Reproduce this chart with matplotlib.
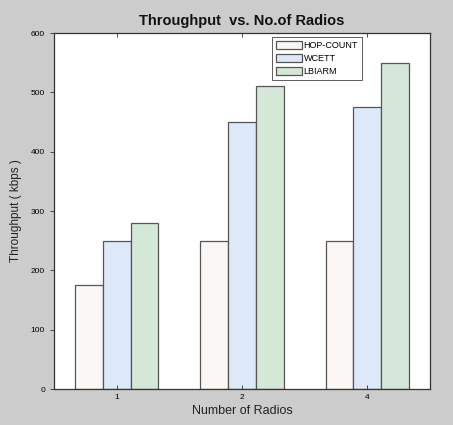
import matplotlib
matplotlib.use("Agg")
import matplotlib.pyplot as plt
import numpy as np

plt.rcParams['font.family'] = ['Liberation Sans', 'DejaVu Sans']

categories = ["1", "2", "4"]
series_names = ["HOP-COUNT", "WCETT", "LBIARM"]
hop_count = [175, 250, 250]
wcett = [250, 450, 475]
lbiarm = [280, 510, 550]
y_ticks = [0, 100, 200, 300, 400, 500, 600]

colors = ["#fbf7f5", "#dde9f9", "#d5e7d7"]

fig = plt.figure(figsize=(4.53, 4.25), dpi=100, facecolor="#cccccc")
ax = fig.add_axes([54/453, 1-389/425, 376/453, 356/425])
x = np.arange(1, len(categories)+1)
w = 0.222
for i, (vals, c, n) in enumerate(zip([hop_count, wcett, lbiarm], colors, series_names)):
    ax.bar(x + (i-1)*w, vals, width=w, color=c, edgecolor="#555555", linewidth=0.9, label=n)

ax.set_xlim(0.5, 3.5)
ax.set_ylim(0, 600)
ax.set_xticks(x)
ax.set_xticklabels(categories)
ax.set_yticks(y_ticks)
ax.tick_params(axis='both', labelsize=6, length=3, width=0.6, color="#333333")
ax.tick_params(axis='x', direction='in', top=True)
ax.tick_params(axis='y', direction='out')
for s in ax.spines.values():
    s.set_color("#333333")
    s.set_linewidth(0.9)

ax.set_xlabel("Number of Radios", fontsize=9, color="#222222", labelpad=3)
ax.set_ylabel("Throughput ( kbps )", fontsize=8.5, color="#222222", labelpad=6)
ax.set_title("Throughput  vs. No.of Radios", fontsize=10.5, fontweight='bold', color="#111111", pad=6)

leg = ax.legend(loc='upper left', bbox_to_anchor=(218/376, 1-4/356), fontsize=6.5, frameon=True,
                fancybox=False, edgecolor="#333333", borderpad=0.4, labelspacing=0.45,
                handlelength=2.9, handleheight=1.0, handletextpad=0.2, borderaxespad=0)
leg.get_frame().set_linewidth(0.7)

fig.savefig("out.png", dpi=100, facecolor=fig.get_facecolor())
